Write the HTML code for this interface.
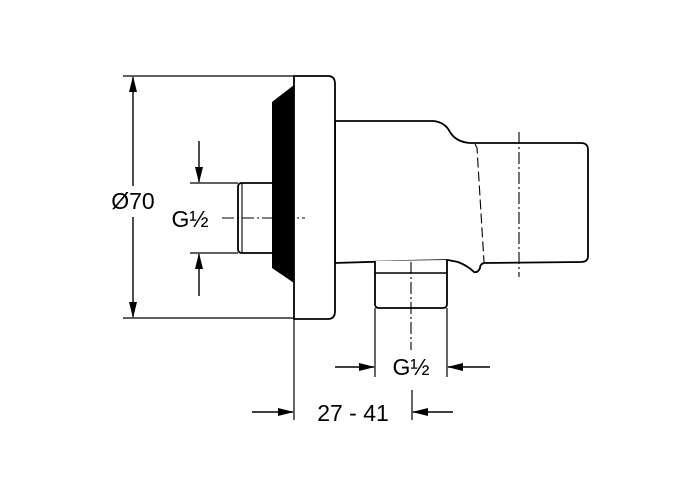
<!DOCTYPE html>
<html><head><style>html,body{margin:0;padding:0;background:#fff}svg{display:block}</style></head><body>
<svg width="700" height="500" viewBox="0 0 700 500" xmlns="http://www.w3.org/2000/svg" font-family="Liberation Sans, sans-serif">
<defs>
<marker id="a" markerWidth="16" markerHeight="8" refX="15" refY="4" orient="auto" markerUnits="userSpaceOnUse"><path d="M0,0 L16,4 L0,8 Z" fill="#000"/></marker>
</defs>
<g fill="none" stroke="#000" stroke-width="1.2">
<line x1="123" y1="76" x2="294" y2="76"/>
<line x1="123" y1="318" x2="294" y2="318"/>
<line x1="190" y1="183" x2="238" y2="183"/>
<line x1="190" y1="253" x2="238" y2="253"/>
<line x1="294" y1="318" x2="294" y2="420"/>
<line x1="375" y1="308" x2="375" y2="377"/>
<line x1="447" y1="308" x2="447" y2="377"/>
<line x1="412" y1="390" x2="412" y2="420"/>
</g>
<g stroke="#000" stroke-width="1.4" fill="none">
<line x1="133" y1="188" x2="133" y2="77" marker-end="url(#a)"/>
<line x1="133" y1="217" x2="133" y2="317" marker-end="url(#a)"/>
<line x1="199" y1="141" x2="199" y2="182" marker-end="url(#a)"/>
<line x1="199" y1="296" x2="199" y2="254" marker-end="url(#a)"/>
<line x1="335" y1="367" x2="374" y2="367" marker-end="url(#a)"/>
<line x1="490" y1="367" x2="448" y2="367" marker-end="url(#a)"/>
<line x1="252" y1="412" x2="293" y2="412" marker-end="url(#a)"/>
<line x1="453" y1="412" x2="413" y2="412" marker-end="url(#a)"/>
</g>
<path d="M272,102 L294,85 L294,283 L272,268 Z" fill="#000"/>
<g fill="#fff" stroke="#000" stroke-width="1.8">
<path d="M272,183 L242,183 Q238,183 238,187 L238,249 Q238,253 242,253 L272,253"/>
<line x1="242" y1="183" x2="242" y2="253" stroke-width="1.1"/>
<path d="M335,121 L433,121 Q445,122 450,132 Q456,142 470,143 L581,143 Q588,143 588,150 L588,256 Q588,262 581,262 L484,263 Q480,264 480,268 Q478,273 474,272 Q468,266 458,262 L448,260 L400,261 L335,263 Z"/>
<path d="M375,261 L375,304 Q375,308 379,308 L443,308 Q447,308 447,304 L447,260"/>
<line x1="375" y1="273" x2="447" y2="273" stroke-width="1.4"/>
<path d="M294,76 L328,76 Q335,76 335,84 L335,311 Q335,319 328,319 L294,319 Z"/>
</g>
<g stroke="#000" stroke-width="1.1" fill="none">
<path d="M475,144 L477,148 L484,262" stroke-dasharray="10,4"/>
<line x1="519" y1="132" x2="519" y2="277" stroke-dasharray="12,3,2,3"/>
<line x1="411" y1="262" x2="411" y2="350" stroke-dasharray="12,3,2,3"/>
<line x1="222" y1="218" x2="305" y2="218" stroke-dasharray="12,3,2,3"/>
</g>
<g font-size="23" fill="#000" text-anchor="middle">
<rect x="106" y="186" width="54" height="30" fill="#fff"/>
<text x="133" y="209">Ø70</text>
<text x="190" y="227">G½</text>
<text x="411" y="375">G½</text>
<text x="353" y="421">27 - 41</text>
</g>
</svg>
</body></html>
